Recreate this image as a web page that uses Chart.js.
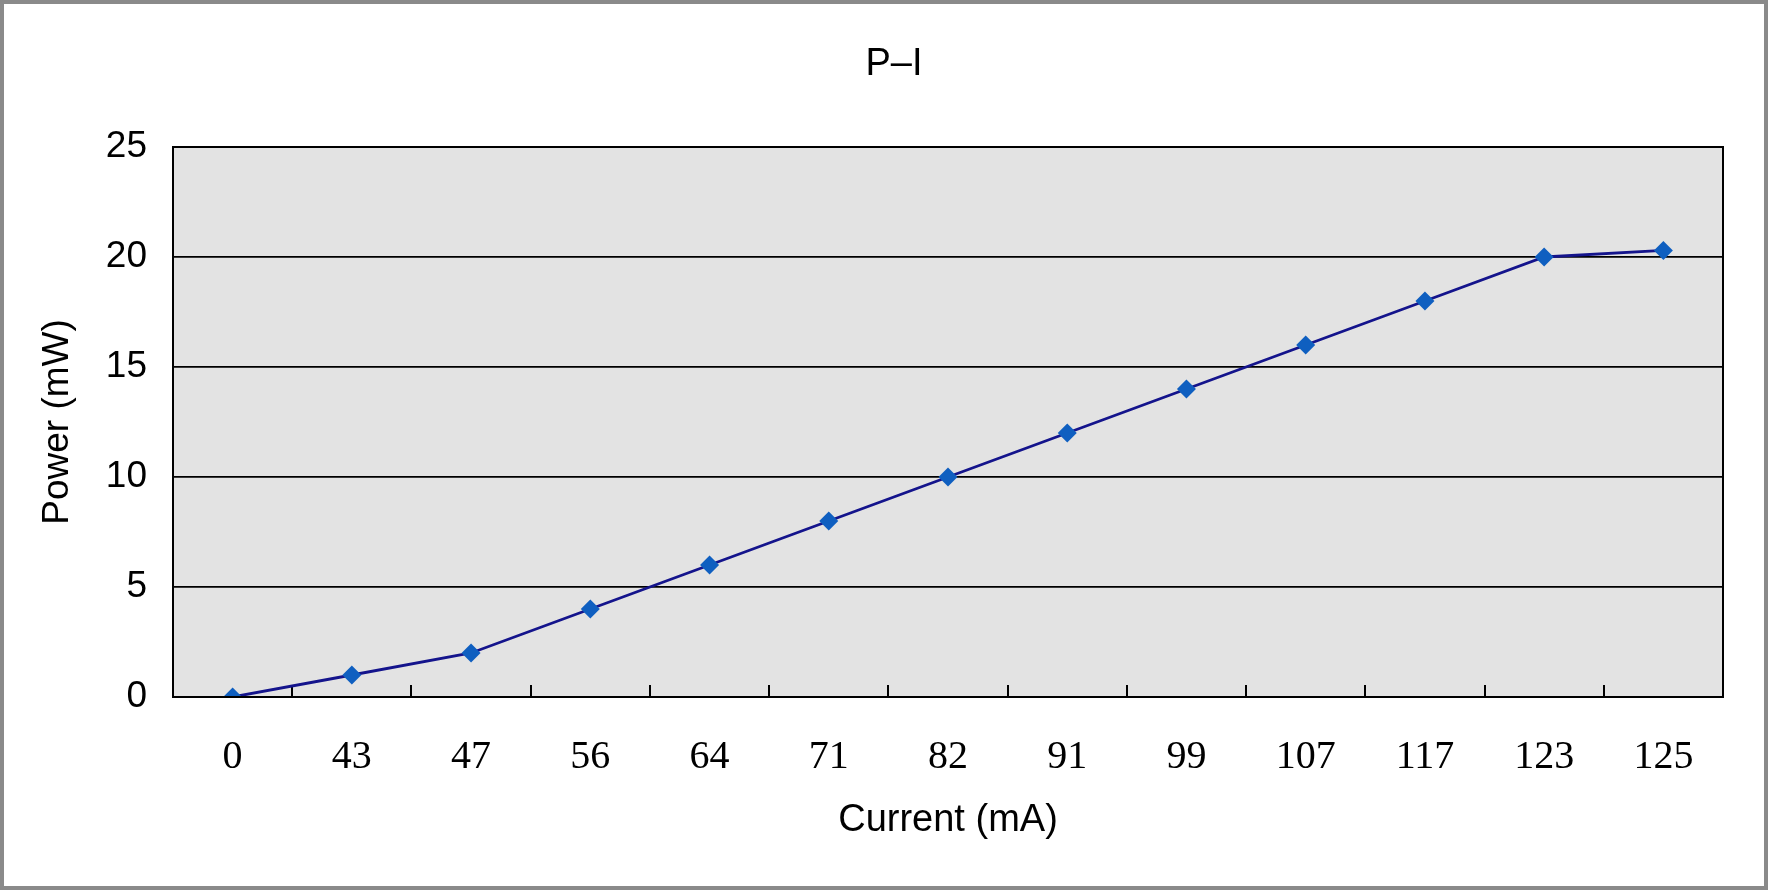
<!DOCTYPE html>
<html>
<head>
<meta charset="utf-8">
<script src="https://cdn.jsdelivr.net/npm/chart.js@4/dist/chart.umd.min.js"></script>
<style>
html,body{margin:0;padding:0;background:#fff;}
#wrap{position:relative;width:1768px;height:890px;}
</style>
</head>
<body>
<div id="wrap"><canvas id="c" width="1768" height="890"></canvas></div>
<script>
const chartTitle = "P–I";
const xAxisTitle = "Current (mA)";
const yAxisTitle = "Power (mW)";
const categories = ["0","43","47","56","64","71","82","91","99","107","117","123","125"];
const powerValues = [0,1,2,4,6,8,10,12,14,16,18,20,20.3];
const yMin = 0, yMax = 25, yStep = 5;

const plotDecor = {
  id: 'plotDecor',
  beforeDraw(chart) {
    const {ctx, chartArea: a} = chart;
    ctx.save();
    ctx.fillStyle = '#e3e3e3';
    ctx.fillRect(a.left, a.top, a.right - a.left, a.bottom - a.top);
    ctx.restore();
  },
  afterDraw(chart) {
    const {ctx, chartArea: a, width, height} = chart;
    ctx.save();
    ctx.strokeStyle = '#000';
    ctx.lineWidth = 2;
    ctx.strokeRect(a.left, a.top, a.right - a.left, a.bottom - a.top);
    ctx.strokeStyle = '#8a8a8a';
    ctx.lineWidth = 4;
    ctx.strokeRect(2, 2, width - 4, height - 4);
    ctx.restore();
  }
};

new Chart(document.getElementById('c'), {
  type: 'line',
  data: {
    labels: categories,
    datasets: [{
      data: powerValues,
      borderColor: '#14148c',
      borderWidth: 2.8,
      backgroundColor: '#0f5fc0',
      pointBackgroundColor: '#0f5fc0',
      pointBorderColor: '#0f5fc0',
      pointStyle: 'rectRot',
      pointRadius: 9.5,
      pointBorderWidth: 0,
      tension: 0,
      fill: false
    }]
  },
  options: {
    responsive: false,
    animation: false,
    devicePixelRatio: 1,
    layout: { padding: { left: 65, right: 45, top: 0, bottom: 0 } },
    plugins: {
      legend: { display: false },
      tooltip: { enabled: false },
      title: {
        display: true,
        text: chartTitle,
        color: '#000',
        font: { family: 'Liberation Sans, Arial, sans-serif', size: 38, weight: 'normal', lineHeight: 1.2 },
        padding: { top: 42, bottom: 59.4 }
      }
    },
    scales: {
      x: {
        type: 'category',
        offset: true,
        grid: {
          offset: true,
          drawOnChartArea: false,
          drawTicks: true,
          tickLength: -12,
          color: '#000',
          lineWidth: 2
        },
        border: { display: true, color: '#000', width: 2 },
        ticks: {
          color: '#000',
          padding: 48,
          maxRotation: 0,
          autoSkip: false,
          font: { family: 'Liberation Serif, Times New Roman, serif', size: 40, lineHeight: 1.2 }
        },
        title: {
          display: true,
          text: xAxisTitle,
          color: '#000',
          font: { family: 'Liberation Sans, Arial, sans-serif', size: 38, lineHeight: 1.2 },
          padding: { top: 0, bottom: 47 }
        },
        afterFit(scale) { scale.height = 193; }
      },
      y: {
        min: yMin,
        max: yMax,
        ticks: {
          stepSize: yStep,
          color: '#000',
          padding: 26,
          font: { family: 'Liberation Sans, Arial, sans-serif', size: 37, lineHeight: 1.2 }
        },
        grid: {
          drawTicks: false,
          color: '#000',
          lineWidth: 1.8
        },
        border: { display: true, color: '#000', width: 2 },
        title: {
          display: true,
          text: yAxisTitle,
          color: '#000',
          font: { family: 'Liberation Sans, Arial, sans-serif', size: 37, lineHeight: 1.2 },
          padding: { top: -29, bottom: 0 }
        },
        afterFit(scale) { scale.width = 108; }
      }
    }
  },
  plugins: [plotDecor]
});
</script>
</body>
</html>
